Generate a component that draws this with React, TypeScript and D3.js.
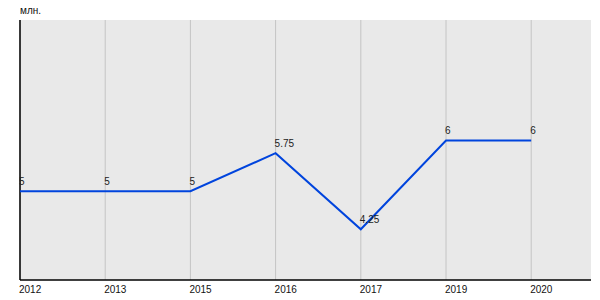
import React from "react";
import * as d3 from "d3";

const categories = ["2012", "2013", "2015", "2016", "2017", "2019", "2020"];
const values = [5, 5, 5, 5.75, 4.25, 6, 6];
const valueLabels = ["5", "5", "5", "5.75", "4.25", "6", "6"];
const unitLabel = "млн.";

export default function App() {
  const W = 600, H = 300;
  const left = 20, right = 591, top = 20, bottom = 280;
  const x = d3.scalePoint<string>().domain(categories).range([left, left + 6 * 85.2]);
  const y = d3.scaleLinear().domain([3.25, 8.375]).range([bottom, top]);
  const line = d3.line<number>()
    .x((_, i) => x(categories[i])!)
    .y((d) => y(d));
  const font = "Arial, 'Liberation Sans', sans-serif";
  return (
    <svg width={W} height={H} style={{ position: "absolute", left: 0, top: 0 }}>
      <rect x={left} y={top} width={right - left} height={bottom - top} fill="#e9e9e9" />
      {categories.map((c) => (
        <line key={c} x1={x(c)} x2={x(c)} y1={top} y2={bottom} stroke="#c4c4c4" strokeWidth={1} />
      ))}
      <line x1={left} x2={left} y1={top} y2={bottom} stroke="#000" strokeWidth={1.5} />
      <line x1={left} x2={right} y1={bottom} y2={bottom} stroke="#000" strokeWidth={1.5} />
      <path d={line(values) || ""} fill="none" stroke="#0044dd" strokeWidth={2} />
      {values.map((v, i) => (
        <text key={i} x={x(categories[i])! - 1} y={y(v) - 6} fontSize={10} fontFamily={font} fill="#222">
          {valueLabels[i]}
        </text>
      ))}
      {categories.map((c) => (
        <text key={c} x={x(c)! - 1} y={293} fontSize={10} fontFamily={font} fill="#111">
          {c}
        </text>
      ))}
      <text x={20} y={14} fontSize={10} fontFamily={font} fill="#111">{unitLabel}</text>
    </svg>
  );
}
